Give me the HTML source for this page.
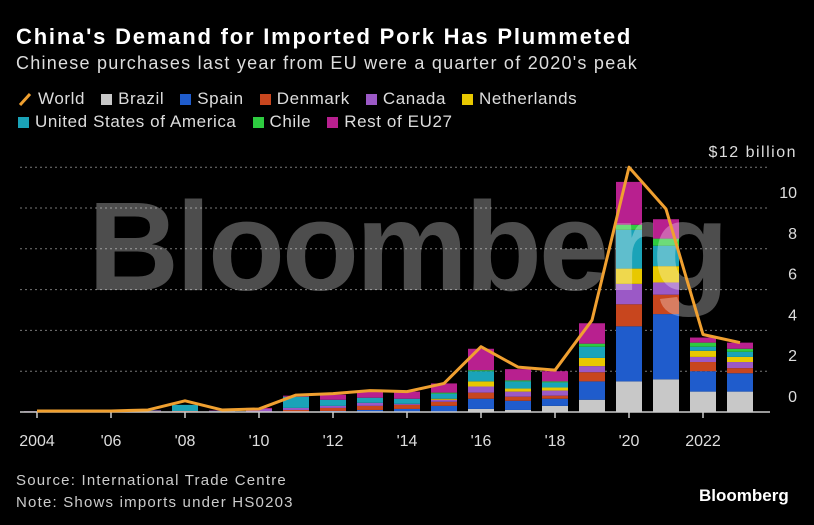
<!DOCTYPE html>
<html><head><meta charset="utf-8">
<style>
html,body{margin:0;padding:0;background:#000;}
body{width:814px;height:525px;overflow:hidden;position:relative;font-family:"Liberation Sans","DejaVu Sans",sans-serif;color:#fff;}
.t{position:absolute;white-space:nowrap;}
.leg{position:absolute;white-space:nowrap;font-size:17px;color:#ddd;display:flex;align-items:center;letter-spacing:0.6px;}
.leg span.sw{display:inline-block;width:11px;height:11px;margin-right:6px;}
.leg .item{display:flex;align-items:center;margin-right:16px;}
</style></head><body>
<div class="t" style="left:16px;top:24px;font-size:22px;font-weight:bold;letter-spacing:1.8px;">China's Demand for Imported Pork Has Plummeted</div>
<div class="t" style="left:16px;top:53px;font-size:18px;color:#ddd;letter-spacing:1.25px;">Chinese purchases last year from EU were a quarter of 2020's peak</div>
<div class="leg" style="left:18px;top:89px;">
 <div class="item"><svg width="14" height="14" style="margin-right:6px"><line x1="2" y1="13" x2="12" y2="2" stroke="#f0a030" stroke-width="3"/></svg>World</div>
 <div class="item"><span class="sw" style="background:#c8c8c8"></span>Brazil</div>
 <div class="item"><span class="sw" style="background:#1f5ccc"></span>Spain</div>
 <div class="item"><span class="sw" style="background:#c8461e"></span>Denmark</div>
 <div class="item"><span class="sw" style="background:#9b59c6"></span>Canada</div>
 <div class="item"><span class="sw" style="background:#e8c800"></span>Netherlands</div>
</div>
<div class="leg" style="left:18px;top:112px;">
 <div class="item"><span class="sw" style="background:#1aa3b8"></span>United States of America</div>
 <div class="item"><span class="sw" style="background:#2ecc40"></span>Chile</div>
 <div class="item"><span class="sw" style="background:#b8208f"></span>Rest of EU27</div>
</div>
<svg id="chart" width="814" height="525" style="position:absolute;left:0;top:0;"></svg>
<div class="t" style="left:16px;top:472px;font-size:15px;color:#ccc;letter-spacing:1.2px;">Source: International Trade Centre</div>
<div class="t" style="left:16px;top:494px;font-size:15px;color:#ccc;letter-spacing:1.2px;">Note: Shows imports under HS0203</div>
<div class="t" style="left:699px;top:486px;font-size:17px;font-weight:bold;">Bloomberg</div>
<script>
const years=[2004,2005,2006,2007,2008,2009,2010,2011,2012,2013,2014,2015,2016,2017,2018,2019,2020,2021,2022,2023];
const world=[0.05,0.05,0.05,0.1,0.55,0.1,0.15,0.83,0.9,1.05,1.0,1.4,3.2,2.2,2.05,4.5,12.0,9.95,3.8,3.4];
const brazil=[0,0,0,0,0,0,0,0,0,0,0,0,0.15,0.1,0.3,0.6,1.5,1.6,1.0,1.0];
const spain=[0.01,0.01,0.01,0.02,0,0.01,0,0,0.05,0.1,0.15,0.3,0.5,0.45,0.35,0.9,2.7,3.2,1.0,0.9];
const denmark=[0.01,0.01,0.01,0.02,0.05,0.01,0,0.1,0.15,0.2,0.2,0.2,0.3,0.2,0.15,0.45,1.08,0.95,0.45,0.25];
const canada=[0,0,0,0.01,0,0.02,0.15,0.1,0.1,0.15,0.05,0.1,0.3,0.25,0.25,0.3,1.0,0.6,0.25,0.3];
const netherlands=[0,0,0,0,0,0,0,0,0,0,0,0.05,0.25,0.15,0.15,0.4,0.75,0.8,0.3,0.25];
const usa=[0.01,0.01,0.01,0.02,0.3,0.02,0,0.55,0.3,0.25,0.25,0.25,0.5,0.35,0.25,0.55,1.9,1.0,0.2,0.25];
const chile=[0,0,0,0,0,0,0,0,0,0,0,0.05,0.05,0.05,0.05,0.15,0.25,0.35,0.2,0.15];
const restEU=[0.01,0.01,0.01,0.02,0,0.02,0.05,0.05,0.25,0.3,0.35,0.45,1.05,0.55,0.5,1.0,2.1,0.95,0.25,0.3];
const yTicks=[0,2,4,6,8,10,12];
const xTickYears=[2004,2006,2008,2010,2012,2014,2016,2018,2020,2022];
const xTickLabels=["2004","'06","'08","'10","'12","'14","'16","'18","'20","2022"];

const NS="http://www.w3.org/2000/svg";
const svg=document.getElementById('chart');
const x=yr=>37+(yr-2004)*37;
const y=v=>412-v*20.4;
function mk(tag,attrs,parent){const e=document.createElementNS(NS,tag);for(const k in attrs)e.setAttribute(k,attrs[k]);(parent||svg).appendChild(e);return e;}

yTicks.forEach((v,i)=>{
  if(v>0){const g=mk('line',{x1:20,x2:770,y1:y(v),y2:y(v),stroke:'#777','stroke-dasharray':'2,3','stroke-width':1});
  
  }
  const t=mk('text',{x:797,y:y(v)-10,'text-anchor':'end',fill:'#ddd','font-size':16,'font-family':'Liberation Sans, sans-serif','letter-spacing':v===12?1.5:0});
  t.textContent=v===12?'$12 billion':String(v);
  
  
});

const series=[[brazil,'#c8c8c8','brazil'],[spain,'#1f5ccc','spain'],[denmark,'#c8461e','denmark'],[canada,'#9b59c6','canada'],[netherlands,'#e8c800','netherlands'],[usa,'#1aa3b8','usa'],[chile,'#2ecc40','chile'],[restEU,'#b8208f','rest-eu27']];
years.forEach((yr,i)=>{
  let base=0;
  series.forEach(([arr,col,nm])=>{
    const v=arr[i]; if(v<=0)return;
    const r=mk('rect',{x:x(yr)-13,width:26,y:y(base+v),height:y(base)-y(base+v),fill:col});
    
    
    base+=v;
  });
});

const wm=mk('text',{x:407,y:290,'text-anchor':'middle',fill:'rgba(255,255,255,0.3)','font-size':126,'font-weight':'bold','font-family':'Liberation Sans, sans-serif','letter-spacing':'-3'});
wm.textContent='Bloomberg';



const ax=mk('line',{x1:20,x2:770,y1:412,y2:412,stroke:'#ccc','stroke-width':1.5});


xTickYears.forEach((yr,i)=>{
  const tk=mk('line',{x1:x(yr),x2:x(yr),y1:412,y2:418,stroke:'#ccc','stroke-width':1.5});
  
  
  const t=mk('text',{x:x(yr),y:446,'text-anchor':'middle',fill:'#ddd','font-size':16,'font-family':'Liberation Sans, sans-serif'});
  t.textContent=xTickLabels[i];
  
  
});

const pl=mk('polyline',{points:years.map((yr,i)=>x(yr)+','+y(world[i])).join(' '),fill:'none',stroke:'#f0a030','stroke-width':3,'stroke-linejoin':'round'});


</script>
</body></html>
